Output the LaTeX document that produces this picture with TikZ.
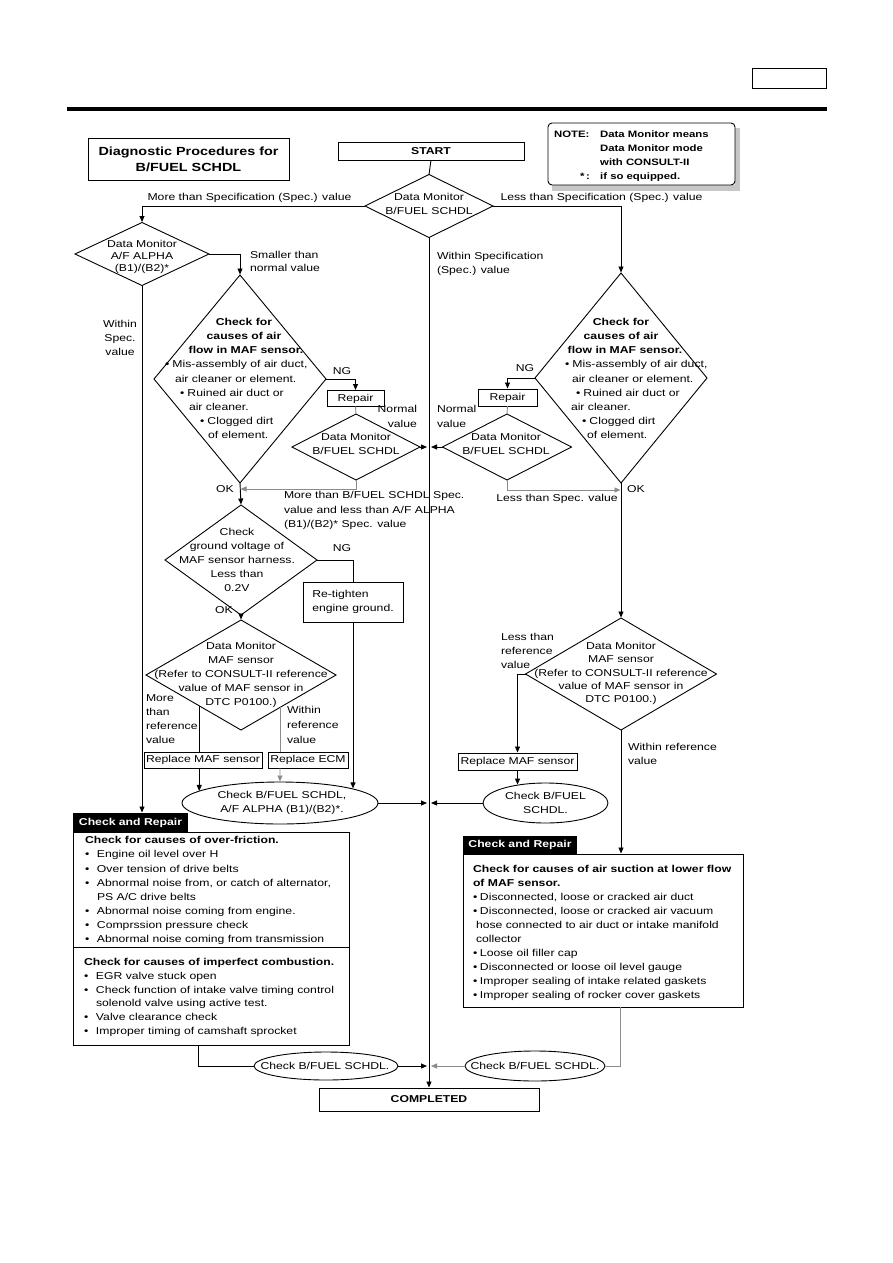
\documentclass[tikz,border=0pt]{standalone}
\usepackage{fontspec}
\setmainfont{Liberation Sans}[FakeStretch=1.22]
\usetikzlibrary{shapes.geometric,arrows.meta,calc}
\newcommand\nfs{\fontsize{10}{14}\selectfont}
\newcommand\bfs{\bfseries\fontsize{10}{14}\selectfont}
\newcommand\bul{\makebox[12pt][l]{•}}
\newcommand\bulr{\makebox[7pt][l]{•}}
\newcommand\bs{\makebox[7.5pt][l]{•}}
\begin{document}
\begin{tikzpicture}[x=1pt,y=-1pt,
 every node/.style={inner sep=0pt,outer sep=0pt,font=\nfs},
 ln/.style={line width=0.9pt},
 ar/.style={ln,-{Triangle[length=6pt,width=5pt]},shorten >=0.5pt},
 gy/.style={draw=black!45},
 box/.style={draw,ln,rectangle},
 dia/.style={draw,ln,diamond},
 ell/.style={draw,ln,ellipse},
 tab/.style={fill=black,text=white,font=\bfs,anchor=north west},
 lt/.style={anchor=mid west},
 bt/.style={anchor=mid,font=\bfs}
]
\useasboundingbox (0,0) rectangle (893,1263);
\fill[white] (0,0) rectangle (893,1263);

% header
\node[draw,line width=1.5pt,minimum width=74,minimum height=20] (hdr) at (789.5,78.5) {};
\draw[line width=3.5pt] (67,109) -- (827,109);

\node[box,minimum width=201,minimum height=42,align=center,font=\bfseries\fontsize{11.8}{16}\selectfont] (title) at (188.5,159.5) {Diagnostic Procedures for\\B/FUEL SCHDL};
\node[box,minimum width=186,minimum height=18,font=\bfs] (start) at (431,151) {START};

% note
\fill[black!22] (552,185) rectangle (740,191);
\fill[black!22] (735,128) rectangle (740,191);
\node[draw,ln,rounded corners=4pt,fill=white,minimum width=187,minimum height=62] (note) at (641.5,154) {};
\begin{scope}[every node/.style={inner sep=0pt,anchor=mid west,font=\bfseries\fontsize{9.3}{13}\selectfont}]
\node (n1) at (554,135) {NOTE:};
\node (n2) at (600,135) {Data Monitor means};
\node (n3) at (600,149) {Data Monitor mode};
\node (n4) at (600,163) {with CONSULT-II};
\node[anchor=mid east] (n5) at (590,177) {*\,:};
\node (n6) at (600,177) {if so equipped.};
\end{scope}

% top diamond
\node[dia,minimum width=128,minimum height=63] (d1) at (429,206) {};
\node[align=center] (d1t) at (429,204) {Data Monitor\\B/FUEL SCHDL};

% A/F ALPHA diamond
\node[dia,minimum width=134,minimum height=63] (dAF) at (142,254) {};
\node[align=center,font=\fontsize{10}{12}\selectfont] (dAFt) at (142,257) {Data Monitor\\A/F ALPHA\\(B1)/(B2)*};

% left big diamond
\node[dia,minimum width=172,minimum height=208] (dL) at (240,379) {};
\node[bt] (dLa) at (244,323) {Check for};
\node[bt] (dLb) at (244,337) {causes of air};
\node[bt] (dLc) at (246,351) {flow in MAF sensor.};
\node[lt] (dLd) at (165,365) {\bs Mis-assembly of air duct,};
\node[lt] (dLe) at (175,380) {air cleaner or element.};
\node[lt] (dLf) at (180,394) {\bs Ruined air duct or};
\node[lt] (dLg) at (189,408) {air cleaner.};
\node[lt] (dLh) at (200,422) {\bs Clogged dirt};
\node[lt] (dLi) at (208,436) {of element.};

\node[box,minimum width=57,minimum height=16] (rpL) at (355.5,398.5) {Repair};
\node[dia,minimum width=128,minimum height=66] (dsL) at (356,447) {};
\node[align=center] (dsLt) at (356,444) {Data Monitor\\B/FUEL SCHDL};

% voltage diamond
\node[dia,minimum width=152,minimum height=110] (dV) at (241,560) {};
\node[align=center] (dVt) at (237,560) {Check\\ground voltage of\\MAF sensor harness.\\Less than\\0.2V};
\node[box,minimum width=100,minimum height=40,align=left] (rt) at (353,602) {Re-tighten\\engine ground.};

% left MAF diamond
\node[dia,minimum width=190,minimum height=110] (dMl) at (241,675) {};
\node[align=center] (dMlt) at (241,675) {Data Monitor\\MAF sensor\\(Refer to CONSULT-II reference\\value of MAF sensor in\\DTC P0100.)};
\node[box,minimum width=118,minimum height=16] (repM) at (203,760) {Replace MAF sensor};
\node[box,minimum width=80,minimum height=16] (repE) at (308,760) {Replace ECM};
\node[ell,minimum width=196,minimum height=42] (ell1) at (280,803) {};
\node[align=center] (ell1t) at (282,803) {Check B/FUEL SCHDL,\\A/F ALPHA (B1)/(B2)*.};

% left check and repair
\node[tab,minimum width=115,minimum height=19] (crLt) at (73,813) {Check and Repair};
\node[box,minimum width=276,minimum height=213,anchor=north west] (crL) at (73,832) {};
\draw[ln] ($(crL.north west)+(0,115)$) -- ($(crL.north east)+(0,115)$);
\node[anchor=north west,align=left,font=\fontsize{10}{14.15}\selectfont] (crLx1) at (85,836.5) {\textbf{Check for causes of over-friction.}\\
\bul Engine oil level over H\\
\bul Over tension of drive belts\\
\bul Abnormal noise from, or catch of alternator,\\
\hspace*{12pt}PS A/C drive belts\\
\bul Abnormal noise coming from engine.\\
\bul Comprssion pressure check\\
\bul Abnormal noise coming from transmission};
\node[anchor=north west,align=left,font=\fontsize{10}{13.8}\selectfont] (crLx2) at (84,958.3) {\textbf{Check for causes of imperfect combustion.}\\
\bul EGR valve stuck open\\
\bul Check function of intake valve timing control\\
\hspace*{12pt}solenold valve using active test.\\
\bul Valve clearance check\\
\bul Improper timing of camshaft sprocket};

% right big diamond
\node[dia,minimum width=172,minimum height=210] (dR) at (621,378) {};
\node[bt] (dRa) at (621,323) {Check for};
\node[bt] (dRb) at (621,337) {causes of air};
\node[bt] (dRc) at (625,351) {flow in MAF sensor.};
\node[lt] (dRd) at (565,365) {\bs Mis-assembly of air duct,};
\node[lt] (dRe) at (572,380) {air cleaner or element.};
\node[lt] (dRf) at (576,394) {\bs Ruined air duct or};
\node[lt] (dRg) at (571,408) {air cleaner.};
\node[lt] (dRh) at (582,422) {\bs Clogged dirt};
\node[lt] (dRi) at (587,436) {of element.};

\node[box,minimum width=59,minimum height=17] (rpR) at (507.5,397.5) {Repair};
\node[dia,minimum width=129,minimum height=66] (dsR) at (507,447) {};
\node[align=center] (dsRt) at (506,444) {Data Monitor\\B/FUEL SCHDL};

% right MAF diamond
\node[dia,minimum width=191,minimum height=112] (dMr) at (621,674) {};
\node[align=center,font=\fontsize{10}{13.3}\selectfont] (dMrt) at (621,673.5) {Data Monitor\\MAF sensor\\(Refer to CONSULT-II reference\\value of MAF sensor in\\DTC P0100.)};
\node[box,minimum width=119,minimum height=17] (repR) at (517.5,761.5) {Replace MAF sensor};
\node[ell,minimum width=125,minimum height=40] (ell2) at (545.5,803) {};
\node[align=center] (ell2t) at (545.5,803) {Check B/FUEL\\SCHDL.};

% right check and repair
\node[tab,minimum width=114,minimum height=18] (crRt) at (463,836) {Check and Repair};
\node[box,minimum width=280,minimum height=153,anchor=north west] (crR) at (463,854) {};
\node[anchor=north west,align=left,font=\fontsize{10}{14}\selectfont] (crRx) at (473,865.3) {\textbf{Check for causes of air suction at lower flow}\\
\textbf{of MAF sensor.}\\
\bulr Disconnected, loose or cracked air duct\\
\bulr Disconnected, loose or cracked air vacuum\\
\hspace*{3pt}hose connected to air duct or intake manifold\\
\hspace*{3pt}collector\\
\bulr Loose oil filler cap\\
\bulr Disconnected or loose oil level gauge\\
\bulr Improper sealing of intake related gaskets\\
\bulr Improper sealing of rocker cover gaskets};

% bottom ellipses and end
\node[ell,minimum width=144,minimum height=28] (ell3) at (326,1066) {};
\node (ell3t) at (325,1066) {Check B/FUEL SCHDL.};
\node[ell,minimum width=140,minimum height=30] (ell4) at (535,1066) {};
\node (ell4t) at (535,1066) {Check B/FUEL SCHDL.};
\node[box,minimum width=220,minimum height=23,font=\bfs] (done) at (429,1099.5) {COMPLETED};

% labels
\node (l1) at (249.5,198) {More than Specification (Spec.) value};
\node (l2) at (601.5,198) {Less than Specification (Spec.) value};
\node[anchor=west,align=left,font=\fontsize{10}{13}\selectfont] (l3) at (250,261.5) {Smaller than\\normal value};
\node[anchor=west,align=left] (l4) at (437,264) {Within Specification\\(Spec.) value};
\node[align=center] (l5) at (120,338) {Within\\Spec.\\value};
\node (l6) at (342,371) {NG};
\node[align=right,anchor=east,font=\fontsize{10}{15}\selectfont] (l7) at (417,416.5) {Normal\\value};
\node[align=left,anchor=west,font=\fontsize{10}{15}\selectfont] (l8) at (437,416.5) {Normal\\value};
\node (l9) at (225,489) {OK};
\node[anchor=west,align=left,font=\fontsize{10}{14.5}\selectfont] (l10) at (284,510.5) {More than B/FUEL SCHDL Spec.\\value and less than A/F ALPHA\\(B1)/(B2)* Spec. value};
\node (l11) at (342,548) {NG};
\node (l12) at (224,610) {OK};
\node[anchor=west,align=left] (l13) at (146,719) {More\\than\\reference\\value};
\node[anchor=west,align=left,font=\fontsize{10}{15}\selectfont] (l14) at (287,725) {Within\\reference\\value};
\node (l15) at (525,368) {NG};
\node (l16) at (557,499) {Less than Spec. value};
\node (l17) at (636,489) {OK};
\node[anchor=west,align=left] (l18) at (501,651) {Less than\\reference\\value};
\node[anchor=west,align=left] (l19) at (628,754) {Within reference\\value};

% connectors
\draw[ln] (start.south) -- (d1.north);
\draw[ar] (d1.south) -- (done.north);
\draw[ar] (d1.west) -| (dAF.north);
\draw[ar] (d1.east) -| (dR.north);
\draw[ar] (dAF.east) -| (dL.north);
\draw[ar] (dAF.south) -- (dAF.south |- crLt.north);
\draw[ar] (dL.east) -| (rpL.north);
\draw[ln,gy] (rpL.south) -- (dsL.north);
\draw[ar,shorten >=2pt] (dsL.east) -- (dsL.east -| d1.south);
\coordinate (okL) at (240,489);
\draw[ar,gy] (dsL.south) |- (okL);
\draw[ar] (dL.south) -- (dV.north);
\draw[ln] (dV.east) -| (rt.north);
\draw[ar] (dV.south) -- (dMl.north);
\coordinate (p1) at ($(dMl.west)!0.56!(dMl.south)$);
\coordinate (p2) at ($(dMl.south)!0.41!(dMl.east)$);
\draw[ln] (p1) -- (p1 |- repM.north);
\draw[ln,gy] (p2) -- (p2 |- repE.north);
\draw[ar] (p1 |- repM.south) -- (p1 |- ell1.172);
\draw[ar,gy] (p2 |- repE.south) -- (ell1.north);
\draw[ar] (rt.south) -- (rt.south |- ell1.11);
\draw[ar,shorten >=2pt] (ell1.east) -- (ell1.east -| d1.south);

\draw[ar] (dR.west) -| (rpR.north);
\draw[ln,gy] (rpR.south) -- (dsR.north);
\draw[ar,shorten >=2pt] (dsR.west) -- (dsR.west -| d1.south);
\coordinate (okR) at (621,490);
\draw[ar,gy] (dsR.south) |- (okR);
\draw[ar] (dR.south) -- (dMr.north);
\draw[ar] (dMr.west) -| (repR.north);
\draw[ar] (repR.south) -- (repR.south |- ell2.147);
\draw[ar,shorten >=2pt] (ell2.west) -- (ell2.west -| d1.south);
\draw[ar] (dMr.south) -- (dMr.south |- crR.north);

\draw[ln] ($(crL.south west)+(125,0)$) |- (ell3.west);
\draw[ar,shorten >=2pt] (ell3.east) -- (ell3.east -| d1.south);
\draw[ln,gy] ($(crR.south west)+(157,0)$) |- (ell4.east);
\draw[ar,gy,shorten >=2pt] (ell4.west) -- (ell4.west -| d1.south);
\end{tikzpicture}
\end{document}
